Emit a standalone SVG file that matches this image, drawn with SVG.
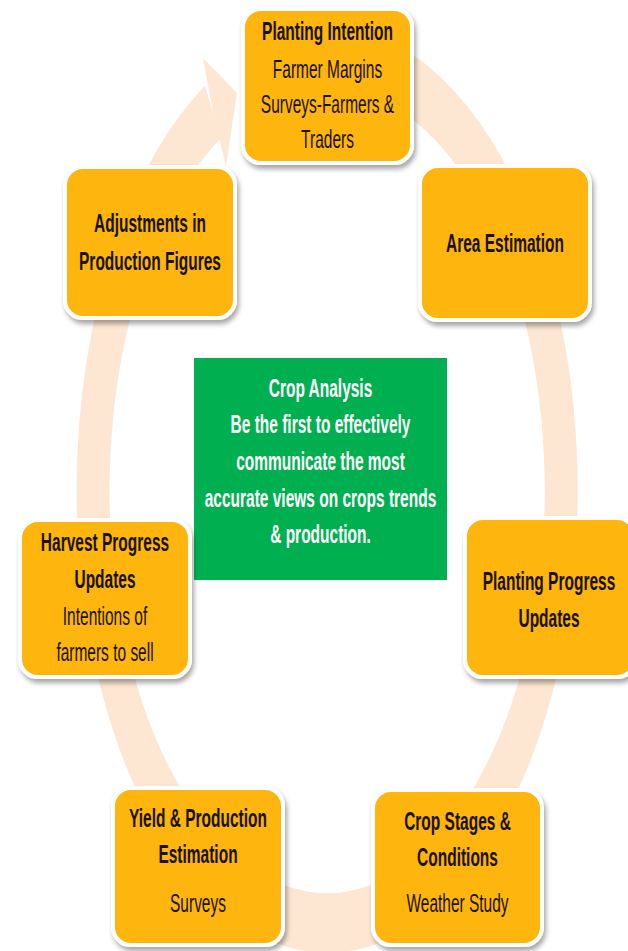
<svg xmlns="http://www.w3.org/2000/svg" width="628" height="951" viewBox="0 0 628 951">
<style>
.box{fill:#FEB50D;stroke:#FFFFFF;stroke-width:4;filter:url(#sh)}
.t{font-family:"Liberation Sans",Arial,sans-serif;font-size:25px;fill:#1a1200;text-anchor:middle}
.b{font-weight:bold}
.w{font-family:"Liberation Sans",Arial,sans-serif;font-size:25px;fill:#FFFFFF;text-anchor:middle;font-weight:bold}
.ring{fill:none;stroke:#FDE7D3;stroke-width:60}
</style>
<defs>
<filter id="sh" x="-10%" y="-10%" width="125%" height="125%">
<feDropShadow dx="2" dy="4" stdDeviation="2.5" flood-color="#000" flood-opacity="0.35"/>
</filter>
</defs>
<rect width="628" height="951" fill="#FFFFFF"/>
<g id="connectors">
<g transform="translate(327,490) scale(0.55,1)">
<path class="ring" d="M -49.1 -430.1 A 425.5 433 0 1 1 -207.3 -378"/>
</g>
<polygon points="203,58 237,93 226,166 213,112" fill="#FDE7D3"/>
</g>
<g id="center">
<rect x="194" y="358" width="253" height="222" fill="#00B050"/>
<g transform="translate(320.5,0) scale(0.62,1)">
<text class="w" x="0" y="397">Crop Analysis</text>
<text class="w" x="0" y="433">Be the first to effectively</text>
<text class="w" x="0" y="470">communicate the most</text>
<text class="w" x="0" y="507">accurate views on crops trends</text>
<text class="w" x="0" y="543">&amp; production.</text>
</g>
</g>
<g id="planting-intention">
<rect class="box" x="243" y="9" width="169" height="154" rx="18"/>
<g transform="translate(327.5,0) scale(0.62,1)">
<text class="t b" x="0" y="40">Planting Intention</text>
<text class="t" x="0" y="78">Farmer Margins</text>
<text class="t" x="0" y="113">Surveys-Farmers &amp;</text>
<text class="t" x="0" y="148">Traders</text>
</g>
</g>
<g id="area-estimation">
<rect class="box" x="420" y="166" width="170" height="154" rx="18"/>
<g transform="translate(505,0) scale(0.62,1)">
<text class="t b" x="0" y="252">Area Estimation</text>
</g>
</g>
<g id="planting-progress">
<rect class="box" x="465" y="518" width="170" height="159" rx="18"/>
<g transform="translate(549,0) scale(0.62,1)">
<text class="t b" x="0" y="590">Planting Progress</text>
<text class="t b" x="0" y="627">Updates</text>
</g>
</g>
<g id="crop-stages">
<rect class="box" x="373" y="790" width="169" height="155" rx="18"/>
<g transform="translate(457.5,0) scale(0.62,1)">
<text class="t b" x="0" y="830">Crop Stages &amp;</text>
<text class="t b" x="0" y="866">Conditions</text>
<text class="t" x="0" y="912">Weather Study</text>
</g>
</g>
<g id="yield">
<rect class="box" x="113" y="788" width="170" height="157" rx="18"/>
<g transform="translate(198,0) scale(0.62,1)">
<text class="t b" x="0" y="827">Yield &amp; Production</text>
<text class="t b" x="0" y="863">Estimation</text>
<text class="t" x="0" y="912">Surveys</text>
</g>
</g>
<g id="harvest-progress">
<rect class="box" x="20" y="520" width="170" height="157" rx="18"/>
<g transform="translate(105,0) scale(0.62,1)">
<text class="t b" x="0" y="551">Harvest Progress</text>
<text class="t b" x="0" y="588">Updates</text>
<text class="t" x="0" y="625">Intentions of</text>
<text class="t" x="0" y="661">farmers to sell</text>
</g>
</g>
<g id="adjustments">
<rect class="box" x="65" y="167" width="170" height="151" rx="18"/>
<g transform="translate(150,0) scale(0.62,1)">
<text class="t b" x="0" y="232">Adjustments in</text>
<text class="t b" x="0" y="270">Production Figures</text>
</g>
</g>
</svg>
